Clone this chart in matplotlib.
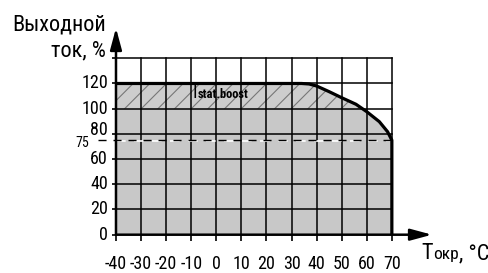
import matplotlib
matplotlib.use('Agg')
import matplotlib.pyplot as plt
import matplotlib.transforms as mtransforms
import numpy as np

plt.rcParams['font.family'] = ['Roboto Condensed', 'DejaVu Sans']
plt.rcParams['axes.unicode_minus'] = False
plt.rcParams['hatch.linewidth'] = 0.8
plt.rcParams['hatch.color'] = '#777777'

# derating curve: ambient temperature (C) vs output current (%)
curve_t = np.array([-40, 34, 37, 40, 45, 50, 55.7, 60, 65, 68.3, 70, 70])
curve_i = np.array([120, 120, 119.6, 118, 113.5, 108.7, 103.5, 97.6, 89.7, 81.7, 75, 0])
boost_low = 100          # lower edge of the boost band
level_75 = 75            # dashed level
xticks = [-40, -30, -20, -10, 0, 10, 20, 30, 40, 50, 60, 70]
yticks = [0, 20, 40, 60, 80, 100, 120, 140]
ylabels = ['0', '20', '40', '60', '80', '100', '120', '']

fig = plt.figure(figsize=(4.89, 2.73), dpi=100)
ax = fig.add_axes([0.2372, 0.1403, 0.6462, 0.757])
ax.set_xlim(-40, 86)
ax.set_ylim(0, 164)
for s in ax.spines.values():
    s.set_visible(False)

gray = '#c8c8c8'
ax.fill_between(curve_t, 0, curve_i, color=gray, lw=0, zorder=1)
ax.fill_between(curve_t, boost_low, np.minimum(curve_i, 120), where=curve_i >= boost_low,
                interpolate=True, facecolor='#cdcdcd', hatch='//', lw=0, zorder=1.5)

# grid
for v in yticks[1:]:
    ax.plot([-40, 70], [v, v], color='k', lw=1.1, zorder=2)
for t in xticks[1:]:
    ax.plot([t, t], [0, 140], color='k', lw=1.1, zorder=2)

# dashed 75 % level
ax.plot([-47, 70], [level_75 - 0.8, level_75 - 0.8], color='white', lw=1.2,
        dashes=(5.8, 5), zorder=2.5, clip_on=False)
ax.plot([-47, 70], [level_75, level_75], color='k', lw=1.0,
        dashes=(5.8, 5), zorder=2.6, clip_on=False)

# curve
ax.plot(curve_t, curve_i, color='k', lw=2.3, zorder=3, solid_joinstyle='round')

# axes with arrows
arrow = dict(arrowstyle='-|>,head_length=1.3,head_width=0.35', lw=1.8, color='k',
             mutation_scale=10, shrinkA=0, shrinkB=0)
ax.annotate('', xy=(86, 0), xytext=(-40, 0), arrowprops=arrow, annotation_clip=False, zorder=4)
ax.annotate('', xy=(-40, 164), xytext=(-40, 0), arrowprops=arrow, annotation_clip=False, zorder=4)

ax.set_xticks(xticks)
ax.set_xticklabels([str(t) for t in xticks])
ax.set_yticks(yticks)
ax.set_yticklabels([''] * len(yticks))
ax.tick_params(axis='x', direction='out', length=4.3, width=1.2, pad=10, labelsize=13)
ax.tick_params(axis='y', direction='out', length=3, width=1.2, labelsize=13)

# y labels
for v, lab in zip(yticks, ylabels):
    dy = 4 if v == 80 else 0
    tr = mtransforms.offset_copy(ax.transData, fig=fig, x=-8, y=dy, units='dots')
    ax.text(-40, v, lab, transform=tr, ha='right', va='center', fontsize=13, clip_on=False)
tr75 = mtransforms.offset_copy(ax.transData, fig=fig, x=-27, y=-3, units='dots')
ax.text(-40, level_75, '75', transform=tr75, ha='right', va='center', fontsize=10, clip_on=False)

# boost label
ti = ax.text(-9.4, 108.5, 'I', fontsize=13, va='baseline', ha='left', zorder=5)
ax.annotate('stat.boost', xy=(1, 108.5), xycoords=(ti, 'data'), va='baseline', ha='left',
            fontsize=9, fontweight='bold', xytext=(0.5, 0), textcoords='offset points', zorder=5)

# axis titles
fig.text(106 / 489, 1 - 31 / 273, 'Выходной', ha='right', va='baseline', fontsize=16)
fig.text(106 / 489, 1 - 56 / 273, 'ток, %', ha='right', va='baseline', fontsize=16)
base_y = 1 - 259 / 273
tt = fig.text(421 / 489, base_y, 'T', ha='left', va='baseline', fontsize=16)
okr = ax.annotate('окр', xy=(1, base_y), xycoords=(tt, 'figure fraction'), va='baseline',
                  ha='left', fontsize=12.5, xytext=(0.5, 0), textcoords='offset points',
                  annotation_clip=False)
ax.annotate(', °C', xy=(1, base_y), xycoords=(okr, 'figure fraction'), va='baseline',
            ha='left', fontsize=16, annotation_clip=False)

fig.savefig('out.png', dpi=100)
